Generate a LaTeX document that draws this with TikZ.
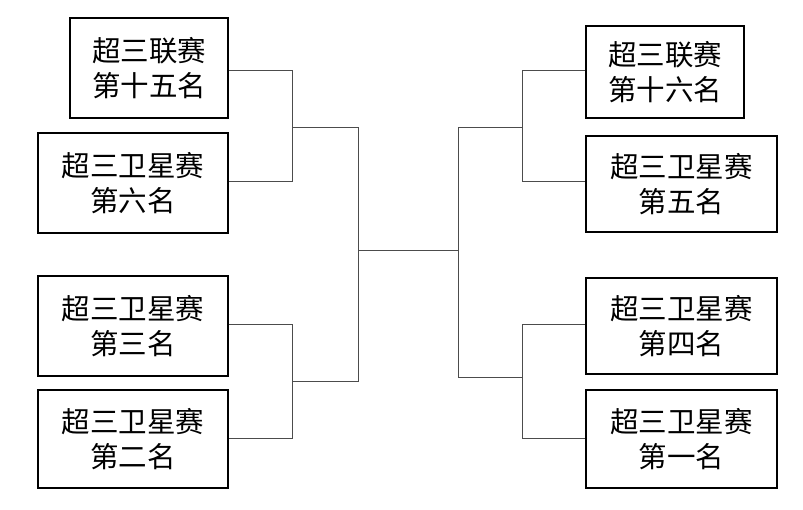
\documentclass[tikz,border=0pt]{standalone}
\usepackage{fontspec}
\newfontfamily\cjk{Noto Sans CJK SC}
\begin{document}
\begin{tikzpicture}[x=1pt,y=-1pt,
  team/.style={draw,line width=1.2pt,inner sep=0pt,align=center,font=\cjk\fontsize{28.5}{35}\selectfont},
  link/.style={draw=black!70,line width=0.7pt}]
\useasboundingbox (0,0) rectangle (803,509);
\node[team,minimum width=158,minimum height=100] (l1) at (149,68) {超三联赛\\第十五名};
\node[team,minimum width=190,minimum height=100] (l2) at (133,183) {超三卫星赛\\第六名};
\node[team,minimum width=190,minimum height=100] (l3) at (133,326) {超三卫星赛\\第三名};
\node[team,minimum width=190,minimum height=98] (l4) at (133,439) {超三卫星赛\\第二名};
\node[team,minimum width=158,minimum height=92] (r1) at (665,72) {超三联赛\\第十六名};
\node[team,minimum width=191,minimum height=96] (r2) at (681.5,184) {超三卫星赛\\第五名};
\node[team,minimum width=191,minimum height=96] (r3) at (681.5,326) {超三卫星赛\\第四名};
\node[team,minimum width=191,minimum height=98] (r4) at (681.5,439) {超三卫星赛\\第一名};
\coordinate (a) at (292,127);
\coordinate (b) at (292,381);
\coordinate (c) at (522,127);
\coordinate (d) at (522,377);
\coordinate (m) at (358,250);
\coordinate (n) at (458,250);
\draw[link] (l1.east|-0,70) -- (292,70) |- (a) ;
\draw[link] (l2.east|-0,181) -- (292,181) -- (a) -- (358,127) -- (358,381) -- (b);
\draw[link] (l3.east|-0,324) -- (292,324) -- (292,438) -- (l4.east|-0,438);
\draw[link] (m) -- (n);
\draw[link] (r1.west|-0,70) -- (522,70) -- (522,181) -- (r2.west|-0,181);
\draw[link] (c) -- (458,127) -- (458,377) -- (d);
\draw[link] (r3.west|-0,324) -- (522,324) -- (522,438) -- (r4.west|-0,438);
\end{tikzpicture}
\end{document}
